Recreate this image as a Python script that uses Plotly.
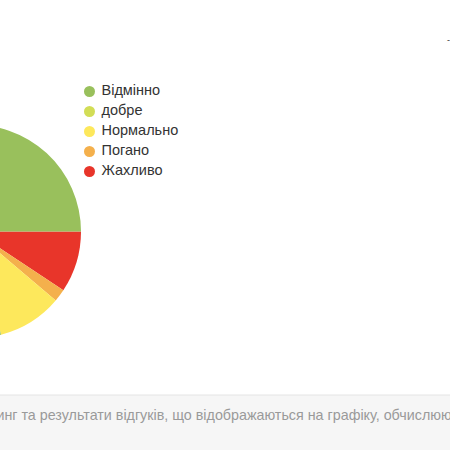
import plotly.graph_objects as go

# ---- data ----
categories = ["Відмінно", "добре", "Нормально", "Погано", "Жахливо"]
values = [79.0, 0.0, 9.8, 1.9, 9.3]
colors = ["#99c05c", "#d2dd56", "#fde85c", "#f4b04c", "#e8352a"]
footer_text = "Рейтинг та результати відгуків, що відображаються на графіку, обчислюються"

# ---- layout constants (page pixels) ----
SHIFT = 132            # figure is shifted left so the pie is cut at the left edge
W, H = 450 + SHIFT, 450
PIE_CX, PIE_CY, PIE_R = -25.5, 231.5, 106.5
LEG_MX, LEG_TX, LEG_Y0, LEG_DY = 89.5, 101.5, 91.5, 20
FOOT_TOP = 395

fig = go.Figure()

# slices go clockwise from 3 o'clock starting with the last category
fig.add_trace(go.Pie(
    labels=categories[::-1],
    values=values[::-1],
    marker=dict(colors=colors[::-1], line=dict(width=0)),
    sort=False,
    direction="clockwise",
    rotation=90,
    textinfo="none",
    hoverinfo="label+percent",
    showlegend=False,
    domain=dict(
        x=[(PIE_CX - PIE_R + SHIFT) / W, (PIE_CX + PIE_R + SHIFT) / W],
        y=[(H - (PIE_CY + PIE_R)) / H, (H - (PIE_CY - PIE_R)) / H],
    ),
))

# legend drawn as markers + labels on hidden pixel axes
ys = [LEG_Y0 + LEG_DY * i for i in range(len(categories))]
fig.add_trace(go.Scatter(
    x=[LEG_MX + SHIFT] * len(categories), y=ys, mode="markers",
    marker=dict(size=11, color=colors, line=dict(width=0)),
    hoverinfo="skip", showlegend=False,
))
fig.add_trace(go.Scatter(
    x=[LEG_TX + SHIFT] * len(categories), y=ys, mode="text",
    text=categories, textposition="middle right",
    textfont=dict(family="Liberation Sans, Arial, sans-serif", size=14.5, color="#333333"),
    hoverinfo="skip", showlegend=False,
))

fig.update_xaxes(range=[0, W], domain=[0, 1], visible=False, fixedrange=True)
fig.update_yaxes(range=[H, 0], domain=[0, 1], visible=False, fixedrange=True)

fig.add_shape(type="rect", xref="paper", yref="paper",
              x0=0, x1=1, y0=0, y1=(H - FOOT_TOP) / H,
              fillcolor="#f6f6f6", line=dict(width=0), layer="below")
fig.add_shape(type="line", xref="paper", yref="paper",
              x0=0, x1=1, y0=(H - FOOT_TOP) / H, y1=(H - FOOT_TOP) / H,
              line=dict(color="#e4e4e4", width=1), layer="below")

fig.add_annotation(
    x=SHIFT - 37, y=415, xref="x", yref="y", xanchor="left", yanchor="middle",
    text=footer_text, showarrow=False,
    font=dict(family="Liberation Sans, Arial, sans-serif", size=14.3, color="#9a9a9a"),
)
fig.add_annotation(
    x=SHIFT + 445, y=40, xref="x", yref="y", xanchor="left", yanchor="middle",
    text="-", showarrow=False,
    font=dict(family="Liberation Sans, Arial, sans-serif", size=9, color="#333333"),
)

fig.update_layout(
    width=W, height=H,
    margin=dict(l=0, r=0, t=0, b=0),
    paper_bgcolor="#ffffff", plot_bgcolor="rgba(0,0,0,0)",
    showlegend=False,
)

post = ("document.body.style.margin='0';document.body.style.overflow='hidden';"
        "var d=document.getElementById('{plot_id}');d.style.marginLeft='-" + str(SHIFT) + "px';")

fig.write_html("out.html", config={"displayModeBar": False}, post_script=post)
